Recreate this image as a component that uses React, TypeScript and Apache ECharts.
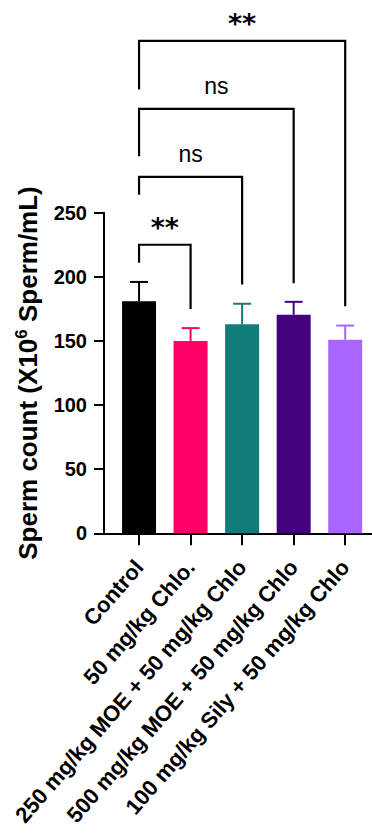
import React, { useEffect, useRef } from "react";
import * as echarts from "echarts";

const categories = [
  "Control",
  "50 mg/kg Chlo.",
  "250 mg/kg MOE + 50 mg/kg Chlo",
  "500 mg/kg MOE + 50 mg/kg Chlo",
  "100 mg/kg Sily + 50 mg/kg Chlo",
];
const meanValues = [181, 150, 163, 170.5, 151];
const errorValues = [15, 10, 16, 10, 11];
const barColors = ["#000000", "#FF0066", "#117C7A", "#43007F", "#A866FF"];

// significance brackets: Control (index 0) vs group index
const bracketGroups = [1, 2, 3, 4];
const bracketHeights = [225, 278, 331, 384];
const bracketLeftEnds = [211, 264, 294, 346];
const bracketRightEnds = [175, 194, 195, 177];
const bracketLabels = ["**", "ns", "ns", "**"];

const FONT = "'Liberation Sans', Arial, Helvetica, sans-serif";

export default function App() {
  const ref = useRef<HTMLDivElement>(null);
  useEffect(() => {
    const chart = echarts.init(ref.current!, null, { renderer: "svg" });
    const tickIdx = categories.map((_, i) => i);
    chart.setOption({
      animation: false,
      backgroundColor: "#ffffff",
      grid: { left: 104, right: 0, top: 212.7, bottom: 305.7 },
      xAxis: {
        type: "value",
        min: -0.68,
        max: 4.52,
        splitLine: { show: false },
        axisLine: { show: true, onZero: false, lineStyle: { color: "#000", width: 2 } },
        axisTick: {
          show: true,
          customValues: tickIdx,
          length: 12,
          lineStyle: { color: "#000", width: 2 },
        },
        axisLabel: {
          customValues: tickIdx,
          formatter: (v: number) => categories[Math.round(v)] ?? "",
          rotate: 49,
          margin: 30,
          color: "#000",
          fontSize: 22,
          fontWeight: "bold",
          fontFamily: FONT,
        },
      },
      yAxis: {
        type: "value",
        min: 0,
        max: 250,
        interval: 50,
        splitLine: { show: false },
        axisLine: { show: true, onZero: false, lineStyle: { color: "#000", width: 2 } },
        axisTick: { show: true, length: 10, lineStyle: { color: "#000", width: 2 } },
        axisLabel: {
          margin: 17,
          color: "#000",
          fontSize: 20,
          fontWeight: "bold",
          fontFamily: FONT,
        },
        name: "Sperm count (X10{sup|6} Sperm/mL)",
        nameLocation: "middle",
        nameGap: 56,
        nameTextStyle: {
          color: "#000",
          fontSize: 26,
          fontWeight: "bold",
          fontFamily: FONT,
          lineHeight: 30,
          rich: {
            sup: {
              color: "#000",
              fontSize: 17,
              fontWeight: "bold",
              fontFamily: FONT,
              verticalAlign: "top",
              lineHeight: 30,
            },
          },
        },
      },
      series: [
        {
          type: "bar",
          barWidth: 34,
          data: meanValues.map((v, i) => ({
            value: [i, v],
            itemStyle: { color: barColors[i] },
          })),
          z: 2,
        },
        {
          type: "custom",
          z: 3,
          clip: false,
          encode: { x: 0, y: [1, 2] },
          data: meanValues.map((v, i) => [i, v, v + errorValues[i]]),
          renderItem: (params: any, api: any) => {
            const i = api.value(0);
            const lo = api.coord([i, api.value(1)]);
            const hi = api.coord([i, api.value(2)]);
            const color = barColors[params.dataIndex];
            return {
              type: "group",
              children: [
                {
                  type: "line",
                  shape: { x1: lo[0], y1: lo[1], x2: hi[0], y2: hi[1] },
                  style: { stroke: color, lineWidth: 2 },
                },
                {
                  type: "line",
                  shape: { x1: hi[0] - 9, y1: hi[1], x2: hi[0] + 9, y2: hi[1] },
                  style: { stroke: color, lineWidth: 2 },
                },
              ],
            };
          },
        },
        {
          type: "custom",
          z: 4,
          clip: false,
          encode: { x: 0, y: 1 },
          data: bracketGroups.map((g, k) => [g, bracketHeights[k]]),
          renderItem: (params: any, api: any) => {
            const k = params.dataIndex;
            const g = bracketGroups[k];
            const p1 = api.coord([0, bracketLeftEnds[k]]);
            const p2 = api.coord([0, bracketHeights[k]]);
            const p3 = api.coord([g, bracketHeights[k]]);
            const p4 = api.coord([g, bracketRightEnds[k]]);
            const isStar = bracketLabels[k] !== "ns";
            return {
              type: "group",
              children: [
                {
                  type: "polyline",
                  shape: { points: [p1, p2, p3, p4] },
                  style: { stroke: "#000", lineWidth: 2.2, fill: null, lineJoin: "miter" },
                },
                {
                  type: "text",
                  x: (p2[0] + p3[0]) / 2,
                  y: p2[1] - (isStar ? 17 : 22.6),
                  style: {
                    text: bracketLabels[k],
                    fill: "#000",
                    fontSize: isStar ? 27 : 23,
                    fontWeight: isStar ? "bold" : "normal",
                    fontFamily: isStar ? "'DejaVu Sans', sans-serif" : FONT,
                    align: "center",
                    verticalAlign: "middle",
                    textAlign: "center",
                    textVerticalAlign: "middle",
                  },
                },
              ],
            };
          },
        },
      ],
    });
    return () => chart.dispose();
  }, []);
  return (
    <div
      ref={ref}
      style={{ position: "fixed", left: 0, top: 0, width: 372, height: 839 }}
    />
  );
}
